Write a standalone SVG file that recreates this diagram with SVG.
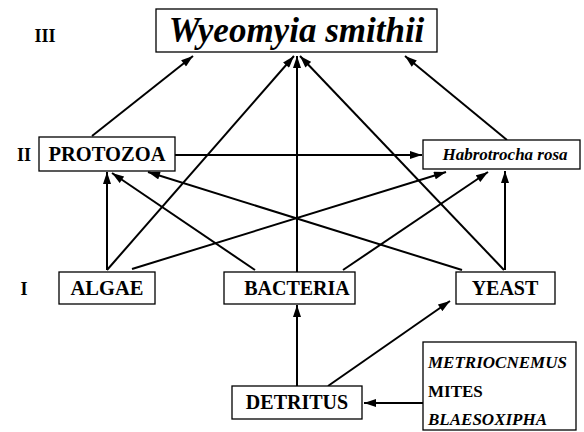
<svg xmlns="http://www.w3.org/2000/svg" width="584" height="432" viewBox="0 0 584 432">
<style>
.box{fill:#fff;stroke:#000;stroke-width:1.3}
text{font-family:'Liberation Serif','DejaVu Serif',serif;font-weight:bold;fill:#000;text-anchor:middle}
.i{font-style:italic}
.s{text-anchor:start}
.c line{stroke:#000;stroke-width:2;marker-end:url(#ah)}
</style>
<defs>
<marker id="ah" viewBox="0 0 12 8" refX="12" refY="4" markerWidth="13" markerHeight="8" markerUnits="userSpaceOnUse" orient="auto">
<path d="M0,0 L12,4 L0,8 Z" fill="#000"/>
</marker>
</defs>
<g id="levels">
<text x="45" y="42" font-size="18">III</text>
<text x="24" y="161" font-size="18">II</text>
<text x="24" y="295" font-size="18">I</text>
</g>
<g class="c" id="connectors">
<line x1="92" y1="136" x2="193" y2="56"/>
<line x1="107" y1="270" x2="294" y2="56"/>
<line x1="297" y1="272" x2="297" y2="56"/>
<line x1="504" y1="270" x2="300" y2="56"/>
<line x1="507" y1="140" x2="405" y2="56"/>
<line x1="175" y1="155" x2="422" y2="155"/>
<line x1="107" y1="270" x2="107" y2="172"/>
<line x1="255" y1="270" x2="112" y2="173"/>
<line x1="462" y1="270" x2="148" y2="172"/>
<line x1="132" y1="269" x2="446" y2="172"/>
<line x1="343" y1="270" x2="488" y2="172"/>
<line x1="505" y1="270" x2="505" y2="171"/>
<line x1="297" y1="386" x2="297" y2="305"/>
<line x1="328" y1="386" x2="450" y2="301"/>
<line x1="423" y1="403" x2="364" y2="403"/>
</g>
<g id="wyeomyia">
<rect class="box" x="156" y="9" width="281" height="43"/>
<text class="i" x="296.5" y="42" font-size="35">Wyeomyia smithii</text>
</g>
<g id="protozoa">
<rect class="box" x="39" y="137" width="136" height="34"/>
<text x="107" y="161" font-size="20.5">PROTOZOA</text>
</g>
<g id="habrotrocha">
<rect class="box" x="423" y="140" width="157" height="29"/>
<text class="i" x="505" y="160" font-size="17">Habrotrocha rosa</text>
</g>
<g id="algae">
<rect class="box" x="59" y="272" width="96" height="32"/>
<text x="107" y="295" font-size="20.5">ALGAE</text>
</g>
<g id="bacteria">
<rect class="box" x="224" y="272" width="131" height="32"/>
<text x="297" y="295" font-size="20">BACTERIA</text>
</g>
<g id="yeast">
<rect class="box" x="456" y="272" width="99" height="32"/>
<text x="505" y="295" font-size="20">YEAST</text>
</g>
<g id="detritus">
<rect class="box" x="232" y="386" width="130" height="33"/>
<text x="297" y="409" font-size="20">DETRITUS</text>
</g>
<g id="predators">
<rect class="box" x="423" y="342" width="153" height="88"/>
<text class="i s" x="428" y="368" font-size="17">METRIOCNEMUS</text>
<text class="s" x="428" y="397" font-size="17">MITES</text>
<text class="i s" x="428" y="425" font-size="17">BLAESOXIPHA</text>
</g>
</svg>
